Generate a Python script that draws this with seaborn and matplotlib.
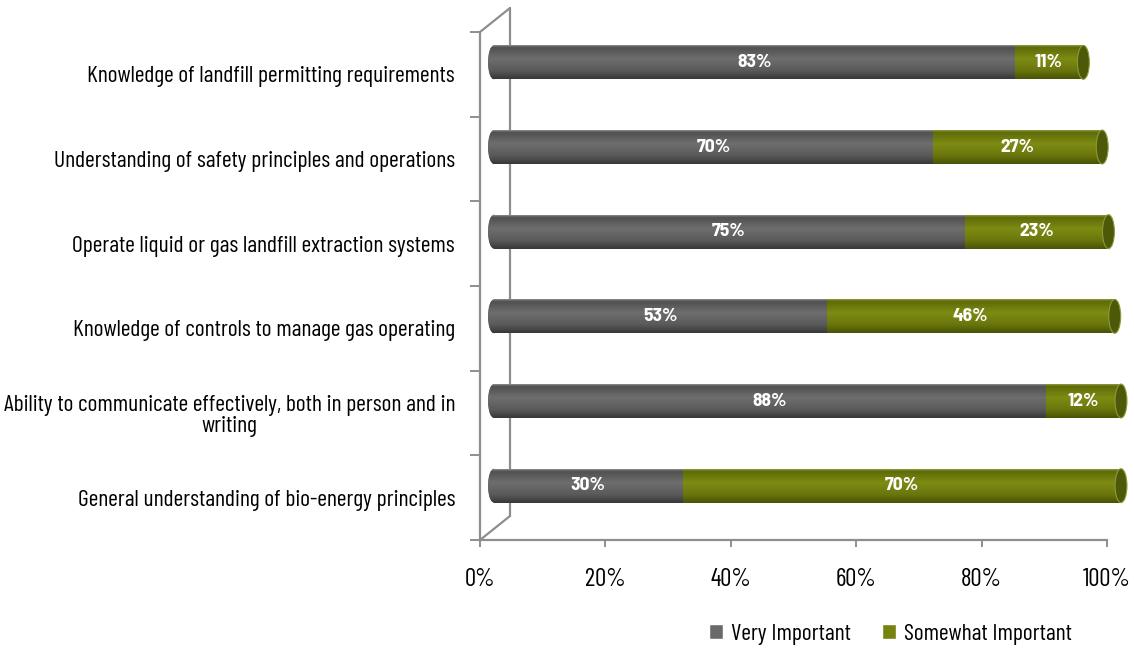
import numpy as np
import pandas as pd
import matplotlib
matplotlib.use("Agg")
import matplotlib.pyplot as plt
import matplotlib.transforms as mtransforms
from matplotlib.patches import Ellipse, Patch
from matplotlib.lines import Line2D
import seaborn as sns

# ---- data -------------------------------------------------------------
skills = [
    "Knowledge of landfill permitting requirements",
    "Understanding of safety principles and operations",
    "Operate liquid or gas landfill extraction systems",
    "Knowledge of controls to manage gas operating",
    "Ability to communicate effectively, both in person and in\nwriting",
    "General understanding of bio-energy principles",
]
very_important = [83, 70, 75, 53, 88, 30]
somewhat_important = [11, 27, 23, 46, 12, 70]
x_ticks = [0, 20, 40, 60, 80, 100]
series_names = ["Very Important", "Somewhat Important"]

# ---- style ------------------------------------------------------------
GRAY = "#6a6a6a"
GREEN = "#76830f"
FRAME = "#8e8e8e"
BAR_W = 0.4
CAP_W = 1.9  # width of the cylinder end caps, in percent units

sns.set_theme(style="white")
plt.rcParams["font.family"] = ["Barlow Condensed", "DejaVu Sans"]

W, H = 1134, 649
fig = plt.figure(figsize=(W / 100, H / 100), dpi=100)
ax = fig.add_axes([480 / W, 1 - 540 / H, 627 / W, 508 / H])

df = pd.DataFrame({
    "skill": skills,
    "very": very_important,
    "total": np.add(very_important, somewhat_important),
})

sns.barplot(data=df, x="total", y="skill", color=GREEN, width=BAR_W,
            orient="h", ax=ax, saturation=1, errorbar=None)
sns.barplot(data=df, x="very", y="skill", color=GRAY, width=BAR_W,
            orient="h", ax=ax, saturation=1, errorbar=None)

# bars sit halfway into the depth of the 3-D box
bar_tf = ax.transData + mtransforms.ScaledTranslation(0.14, 0.12, fig.dpi_scale_trans)


def shade(stops):
    """Vertical RGB gradient (top -> bottom) built from (pos, hex) stops."""
    pos = np.linspace(0, 1, 64)
    cols = np.array([matplotlib.colors.to_rgb(c) for _, c in stops])
    ps = [p for p, _ in stops]
    rgb = np.stack([np.interp(pos, ps, cols[:, k]) for k in range(3)], axis=-1)
    return rgb[:, None, :]


gray_grad = shade([(0, "#8a8a8a"), (0.06, "#505050"), (0.4, "#6e6e6e"),
                   (0.75, "#5a5a5a"), (1, "#383838")])
green_grad = shade([(0, "#8d9a3a"), (0.06, "#5e6a08"), (0.4, "#7e8b13"),
                    (0.75, "#6a760c"), (1, "#485306")])

n = len(skills)
green_patches = ax.patches[:n]
gray_patches = ax.patches[n:2 * n]

for patches, grad, z in ((green_patches, green_grad, 2), (gray_patches, gray_grad, 3)):
    for p in patches:
        p.set_transform(bar_tf)
        p.set_zorder(z)
        p.set_edgecolor("none")
        p.set_linewidth(0)
        p.set_clip_on(False)
        x0, y0 = p.get_x(), p.get_y()
        x1, y1 = x0 + p.get_width(), y0 + p.get_height()
        im = ax.imshow(grad, extent=(x0, x1, y1, y0), aspect="auto",
                       transform=bar_tf, zorder=z + 0.1, interpolation="bilinear")
        im.set_clip_path(p)

# cylinder end caps and value labels
label_font = dict(color="white", fontsize=14, fontweight="bold",
                  family=["Barlow Semi Condensed", "DejaVu Sans"])
for i, (v, s) in enumerate(zip(very_important, somewhat_important)):
    total = v + s
    y0, y1 = i - BAR_W / 2, i + BAR_W / 2
    left = Ellipse((0, i), CAP_W, BAR_W, transform=bar_tf, facecolor=GRAY,
                   edgecolor="none", zorder=1.5, clip_on=False)
    ax.add_patch(left)
    im = ax.imshow(gray_grad, extent=(-CAP_W / 2, CAP_W / 2, y1, y0), aspect="auto",
                   transform=bar_tf, zorder=1.6, interpolation="bilinear")
    im.set_clip_path(left)
    right = Ellipse((total, i), CAP_W, BAR_W, transform=bar_tf, facecolor="#4d5808",
                    edgecolor="#8d9a3a", linewidth=0.8, zorder=4, clip_on=False)
    ax.add_patch(right)

    ax.text(v / 2, i, f"{v}%", transform=bar_tf, ha="center", va="center",
            zorder=6, clip_on=False, **label_font)
    ax.text(v + s / 2, i, f"{s}%", transform=bar_tf, ha="center", va="center",
            zorder=6, clip_on=False, **label_font)

ax.set_xlim(0, 100)
ax.set_ylim(n - 0.5, -0.5)
ax.set_xlabel("")
ax.set_ylabel("")

# axes frame (front plane)
for side in ("top", "right"):
    ax.spines[side].set_visible(False)
for side in ("left", "bottom"):
    ax.spines[side].set_color(FRAME)
    ax.spines[side].set_linewidth(1.6)
    ax.spines[side].set_zorder(1)

ax.set_xticks(x_ticks)
ax.set_xticklabels([f"{t}%" for t in x_ticks])
ax.tick_params(axis="x", bottom=True, length=5, width=1.4, color=FRAME,
               pad=15, labelsize=18, labelcolor="black", direction="out")
ax.set_yticks(range(n))
ax.set_yticklabels(skills, multialignment="center")
ax.set_yticks(np.arange(-0.5, n, 1), minor=True)
ax.tick_params(axis="y", which="major", left=False, length=0, pad=18,
               labelsize=17, labelcolor="black")
ax.tick_params(axis="y", which="minor", left=True, length=7, width=1.4,
               color=FRAME, direction="out")
for lbl in ax.get_yticklabels():
    lbl.set_linespacing(1.05)
ax.grid(False)

# back wall of the 3-D box
back_tf = ax.transAxes + mtransforms.ScaledTranslation(0.30, 0.24, fig.dpi_scale_trans)
to_fig = fig.transFigure.inverted()
f_top = to_fig.transform(ax.transAxes.transform((0, 1)))
f_bot = to_fig.transform(ax.transAxes.transform((0, 0)))
b_top = to_fig.transform(back_tf.transform((0, 1)))
b_bot = to_fig.transform(back_tf.transform((0, 0)))
for a, b in ((f_top, b_top), (b_top, b_bot), (b_bot, f_bot)):
    fig.add_artist(Line2D([a[0], b[0]], [a[1], b[1]], color=FRAME, linewidth=1.6,
                          zorder=0.5))
ax.set_zorder(1)
ax.patch.set_visible(False)

# legend
handles = [Patch(facecolor=GRAY), Patch(facecolor=GREEN)]
fig.legend(handles, series_names, loc="center", bbox_to_anchor=(0.785, 0.022),
           ncol=2, frameon=False, fontsize=17, handlelength=0.6, handleheight=0.6,
           handletextpad=0.35, columnspacing=1.3, labelcolor="black")

fig.savefig("out.png", dpi=100)
